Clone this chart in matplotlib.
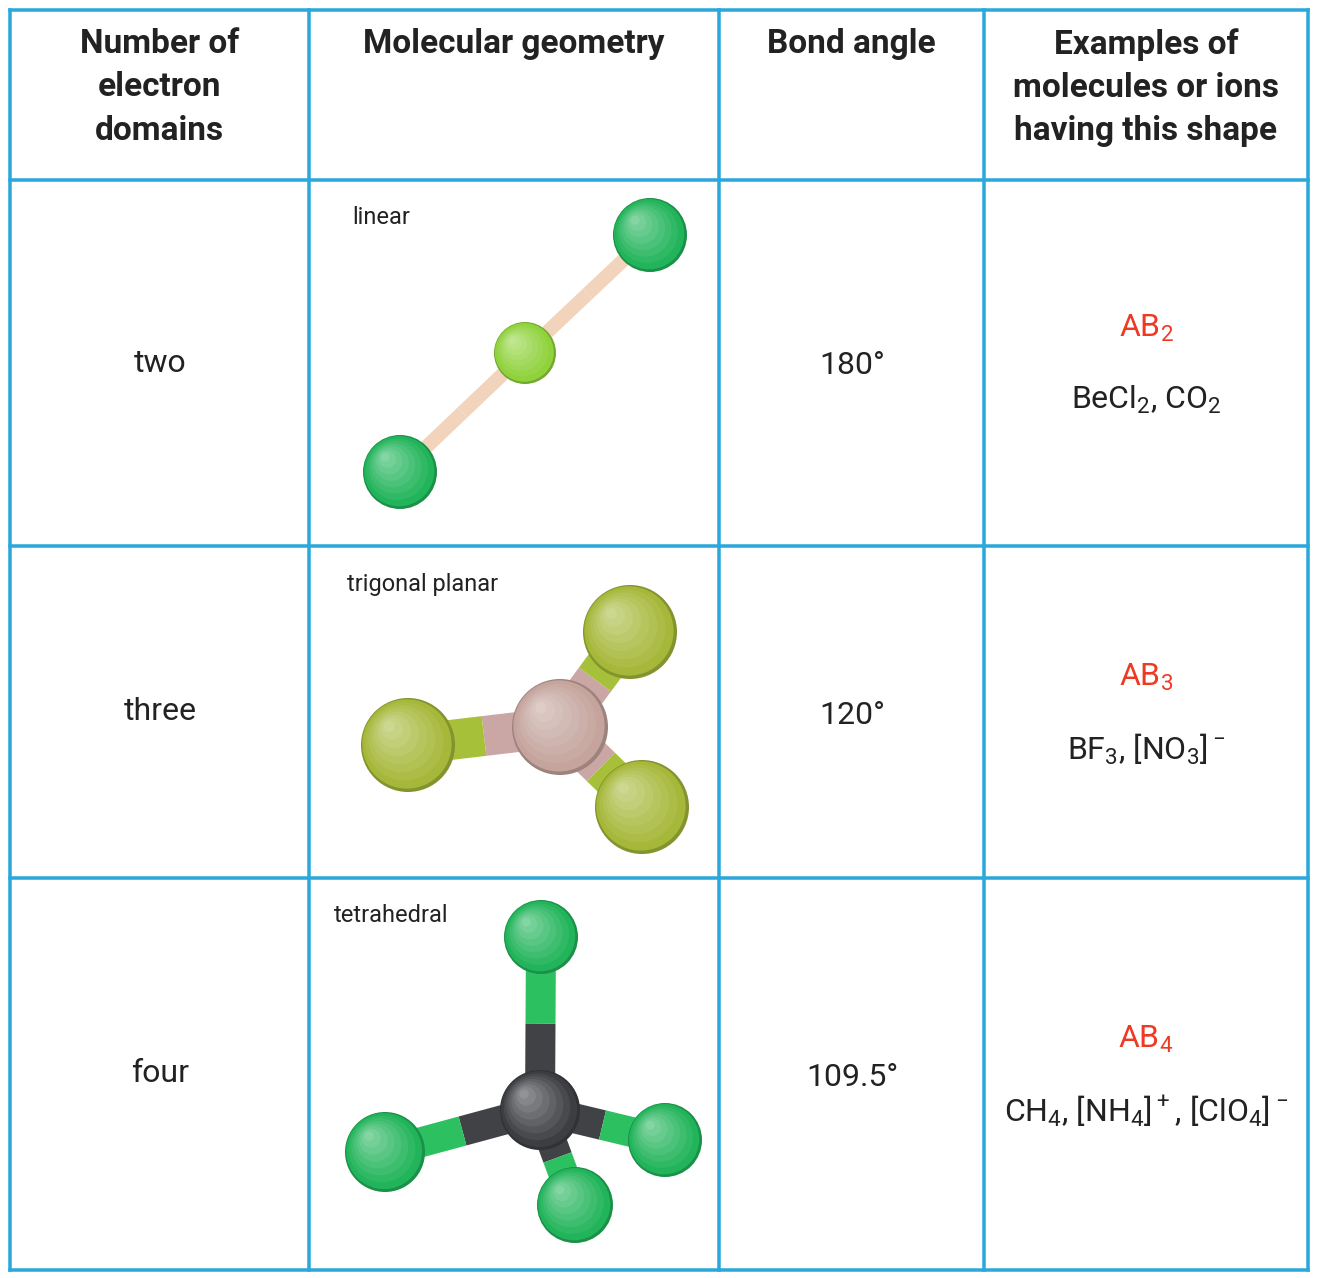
import matplotlib.pyplot as plt
from matplotlib.patches import Circle
import matplotlib.colors as mc

plt.rcParams['font.family'] = ['Roboto', 'DejaVu Sans']
plt.rcParams['mathtext.fontset'] = 'custom'
plt.rcParams['mathtext.rm'] = 'Roboto'

headers = ["Number of\nelectron\ndomains", "Molecular geometry", "Bond angle",
           "Examples of\nmolecules or ions\nhaving this shape"]
domains = ["two", "three", "four"]
geometries = ["linear", "trigonal planar", "tetrahedral"]
angles = ["180°", "120°", "109.5°"]
formulas = [r"AB$_2$", r"AB$_3$", r"AB$_4$"]
examples = [r"BeCl$_2$, CO$_2$", r"BF$_3$, [NO$_3$]$^-$",
            r"CH$_4$, [NH$_4$]$^+$, [ClO$_4$]$^-$"]

col_edges = [10, 309, 719, 984, 1308]
row_edges = [10, 180, 546, 878, 1270]
line_col = "#2aa8dc"

# atoms: (x, y, radius, colour) ; bonds: (atom_i, atom_j, width_px, colour_near_i, colour_near_j)
molecules = [
    dict(atoms=[(400, 472, 37, "#22b45a"), (525, 353, 31, "#8fd23c"), (650, 235, 37, "#22b45a")],
         bonds=[(1, 0, 14, "#f2d4bc", "#f2d4bc"), (1, 2, 14, "#f2d4bc", "#f2d4bc")], order=[0, 1, 2]),
    dict(atoms=[(560, 727, 48, "#c4a49c"), (630, 632, 47, "#a6b83a"),
                (408, 745, 47, "#a6b83a"), (642, 807, 47, "#a6b83a")],
         bonds=[(0, 1, 40, "#caa6a4", "#a6c03a"), (0, 2, 40, "#caa6a4", "#a6c03a"),
                (0, 3, 40, "#caa6a4", "#a6c03a")], order=[1, 2, 0, 3]),
    dict(atoms=[(540, 1110, 40, "#3c3e42"), (541, 937, 37, "#22b45a"), (385, 1152, 40, "#22b45a"),
                (665, 1140, 37, "#22b45a"), (575, 1205, 38, "#22b45a")],
         bonds=[(0, 1, 30, "#404245", "#2cc060"), (0, 2, 30, "#404245", "#2cc060"),
                (0, 3, 30, "#404245", "#2cc060"), (0, 4, 30, "#404245", "#2cc060")],
         order=[1, 3, 0, 2, 4]),
]

fig = plt.figure(figsize=(13.18, 12.78), dpi=100)
ax = fig.add_axes([0, 0, 1, 1])
ax.set_xlim(0, 1318)
ax.set_ylim(1278, 0)
ax.axis('off')
PX = 72 / 100  # points per pixel

for x in col_edges:
    ax.plot([x, x], [row_edges[0], row_edges[-1]], color=line_col, lw=3.5 * PX, zorder=5)
for y in row_edges:
    ax.plot([col_edges[0], col_edges[-1]], [y, y], color=line_col, lw=3.5 * PX, zorder=5)

# header
for i, h in enumerate(headers):
    cx = (col_edges[i] + col_edges[i + 1]) / 2
    ax.text(cx, 28, h, ha='center', va='top', fontsize=24, fontweight='bold',
            color="#222222", linespacing=1.45)


def shade(ax, x, y, r, col, z):
    base = mc.to_rgb(col)
    dark = tuple(c * 0.8 for c in base)
    ax.add_patch(Circle((x, y), r, color=dark, zorder=z, lw=0))
    n = 8
    for k in range(n):
        f = 1 - k / n
        light = tuple(min(1, c + (1 - c) * 0.5 * (k / n)) for c in base)
        rr = r * f * 0.95
        off = (r - rr) * 0.45
        ax.add_patch(Circle((x - off, y - off), rr, color=light, zorder=z, lw=0))


for i in range(3):
    y0, y1 = row_edges[i + 1], row_edges[i + 2]
    cy = (y0 + y1) / 2
    ax.text(160, cy, domains[i], ha='center', va='center', fontsize=23, color="#222222")
    ax.text(852, cy + 3, angles[i], ha='center', va='center', fontsize=23, color="#222222")
    ax.text(1146, cy - 35, formulas[i], ha='center', va='center', fontsize=23, color="#ee3a24")
    ax.text(1146, cy + 37, examples[i], ha='center', va='center', fontsize=23, color="#222222")
    gx = [352, 347, 334][i]
    ax.text(gx, y0 + 38, geometries[i], ha='left', va='center', fontsize=17, color="#222222")

    m = molecules[i]
    at = m['atoms']
    for a, b, w, ca, cb in m['bonds']:
        xa, ya = at[a][:2]
        xb, yb = at[b][:2]
        xm, ym = (xa + xb) / 2, (ya + yb) / 2
        ax.plot([xa, xm], [ya, ym], color=ca, lw=w * PX, solid_capstyle='butt', zorder=10)
        ax.plot([xm, xb], [ym, yb], color=cb, lw=w * PX, solid_capstyle='butt', zorder=10)
    for z, k in enumerate(m['order']):
        x, y, r, c = at[k]
        shade(ax, x, y, r, c, 20 + z)

fig.savefig("out.png", dpi=100, facecolor="white")
